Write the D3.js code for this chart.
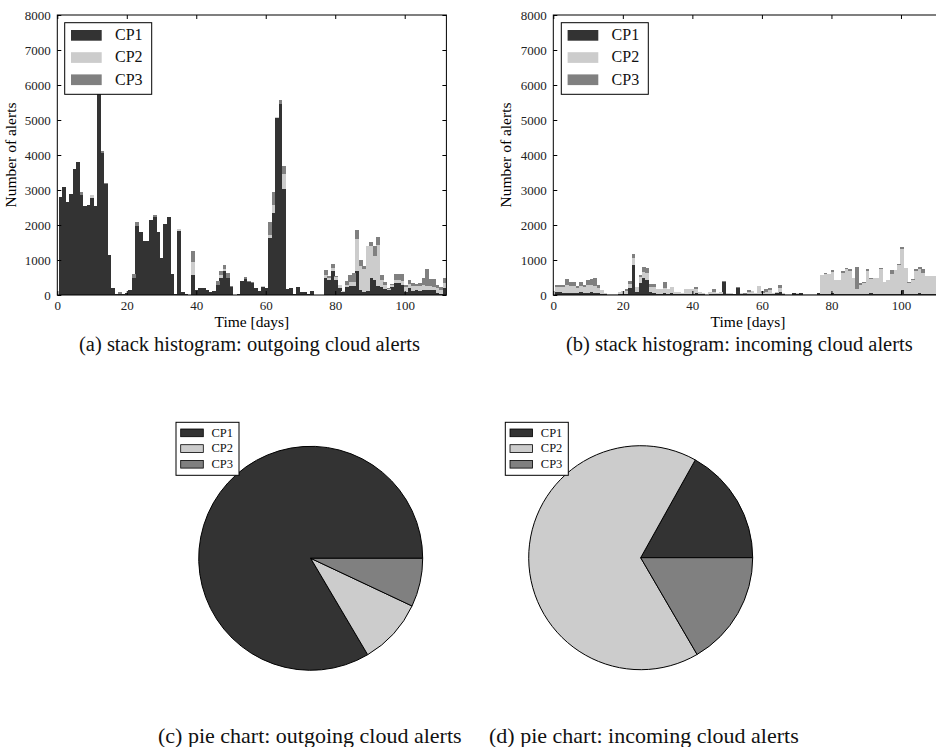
<!DOCTYPE html>
<html><head><meta charset="utf-8">
<script src="https://cdn.jsdelivr.net/npm/d3@7"></script>
<style>
body{margin:0;background:#fff}
svg{display:block}
text{font-family:"Liberation Serif","Times New Roman","DejaVu Serif",serif}
</style></head><body>
<svg id="c" width="936" height="747"></svg>
<script>
// ---------------- DATA ----------------
const categories = ["CP1", "CP2", "CP3"];
// histogram bins (days): 111 bins between these edges
const binEdgeFirst = 0.4, binEdgeLast = 111.9;
const xTickValues = [0, 20, 40, 60, 80, 100];
const yTickValues = [0, 1000, 2000, 3000, 4000, 5000, 6000, 7000, 8000];

// outgoing cloud alerts per bin
const outCP1 = [2800,3100,2650,2900,3600,3800,2870,2550,2580,2780,
  2550,6000,4050,3180,1150,200,30,20,30,50,
  130,480,1960,1800,1550,1540,2130,2220,1800,1060,
  2040,2240,600,30,1820,80,20,10,560,150,
  190,200,130,90,120,300,500,680,500,230,
  10,30,400,450,360,330,190,110,220,210,
  1620,2330,5070,5470,3040,160,200,40,230,90,
  90,30,110,10,0,0,490,430,700,430,
  200,80,220,260,260,700,130,100,120,480,
  430,260,240,180,130,230,340,330,300,100,
  200,120,150,110,150,130,140,130,60,40,190];
const outCP2 = [0,0,0,0,0,0,0,0,0,70,
  0,0,0,0,0,0,0,0,0,0,
  0,0,0,0,0,0,0,0,0,0,
  0,0,0,0,60,0,0,0,380,0,
  0,0,0,0,0,0,80,60,0,0,
  0,0,0,0,0,0,0,0,40,0,
  100,240,30,0,430,0,0,0,0,0,
  0,0,0,0,0,0,80,60,80,80,
  90,30,80,100,120,910,700,650,1280,930,
  680,1170,190,120,50,60,80,90,100,130,
  120,150,100,140,130,120,110,100,140,100,140];
const outCP3 = [0,0,0,0,0,0,80,0,0,0,
  0,0,60,30,0,0,0,60,0,0,
  0,120,120,0,0,0,0,60,0,0,
  0,0,0,0,0,0,0,0,330,0,
  0,0,0,0,0,100,120,130,140,40,
  0,0,0,60,30,50,0,0,0,0,
  380,380,0,115,220,0,0,0,0,0,
  0,0,0,0,0,0,140,50,100,40,
  0,0,100,220,260,240,170,80,0,100,
  280,220,140,60,20,30,170,170,190,50,
  120,80,70,100,200,480,200,230,100,80,150];

// incoming cloud alerts per bin
const inCP1 = [80,90,70,60,70,60,50,80,70,60,
  80,70,60,40,20,10,10,10,20,30,
  40,200,850,80,340,500,430,80,60,40,
  40,60,40,50,30,30,20,30,40,30,
  50,30,20,10,30,40,20,40,370,20,
  30,20,200,40,40,30,20,20,30,30,
  40,30,30,50,90,20,10,10,60,40,
  50,10,10,10,10,50,20,20,20,60,
  20,20,20,20,20,20,40,20,30,20,
  60,20,20,20,20,20,30,20,40,150,
  20,20,20,40,60,40,20,20,20,20,20];
const inCP2 = [150,150,150,230,200,200,150,180,150,220,
  200,200,150,100,50,20,10,20,80,90,
  80,120,200,160,170,170,200,140,170,130,
  120,150,120,170,60,60,50,130,120,130,
  110,60,40,20,60,60,30,50,0,30,
  40,10,0,30,0,50,90,30,230,20,
  40,100,20,50,100,50,10,10,10,10,
  20,10,10,5,5,20,540,580,580,600,
  400,420,610,720,660,470,140,270,320,670,
  400,480,480,720,340,420,570,690,830,1170,
  740,330,400,650,680,580,520,520,530,520,520];
const inCP3 = [50,60,60,170,110,120,50,100,60,150,
  170,230,80,0,0,0,0,0,0,0,
  50,80,110,0,70,130,140,90,80,0,
  0,170,0,0,0,0,0,0,0,0,
  60,0,0,0,0,60,0,0,30,0,
  0,0,20,0,27,60,0,0,0,60,
  80,60,0,0,100,0,0,0,0,0,
  0,0,0,0,0,0,10,40,0,50,
  10,0,60,40,50,0,630,40,30,40,
  20,0,0,30,0,0,110,0,20,40,
  0,20,30,40,60,110,0,0,0,0,0];

// pie shares (%)
const pieOut = [83.5, 9.5, 7.0];
const pieIn = [16.9, 66.5, 16.6];

// ---------------- DRAWING ----------------
const colors = d3.scaleOrdinal().domain(categories).range(["#333333", "#cccccc", "#808080"]);
const svg = d3.select("#c");
const SERIF = '"Liberation Serif","Times New Roman","DejaVu Serif",serif';

function histogram(cfg) {
  const g = svg.append("g").attr("transform", `translate(${cfg.left},${cfg.top})`);
  const x = d3.scaleLinear().domain([0, 112]).range([0, cfg.width]);
  const y = d3.scaleLinear().domain([0, 8000]).range([cfg.height, 0]);
  const nBins = cfg.series[0].length;
  const edge = d3.scaleLinear().domain([0, nBins]).range([binEdgeFirst, binEdgeLast]);
  const rows = d3.range(nBins).map(i => {
    const r = { bin: i };
    categories.forEach((c, j) => r[c] = cfg.series[j][i]);
    return r;
  });
  const stacked = d3.stack().keys(categories)(rows);
  const clipId = "clip" + cfg.id;
  g.append("clipPath").attr("id", clipId).append("rect")
    .attr("width", cfg.width).attr("height", cfg.height);
  const bars = g.append("g").attr("clip-path", `url(#${clipId})`);
  bars.selectAll("g.layer").data(stacked).join("g").attr("class", "layer")
    .attr("fill", d => colors(d.key))
    .selectAll("rect").data(d => d).join("rect")
    .attr("x", d => x(edge(d.data.bin)))
    .attr("width", d => x(edge(d.data.bin + 1)) - x(edge(d.data.bin)) + 0.3)
    .attr("y", d => y(d[1]))
    .attr("height", d => Math.max(0, y(d[0]) - y(d[1])))
    .attr("shape-rendering", "crispEdges");

  // axes, matplotlib style inward ticks
  const ax = (gen, tr) => {
    const a = g.append("g").attr("transform", tr).attr("font-family", null).call(gen);
    a.attr("font-family", SERIF);
    a.select(".domain").remove();
    a.selectAll(".tick line").attr("stroke", "#000");
    a.selectAll("text").attr("fill", "#222").style("font-size", "13px")
      .style("font-family", SERIF);
    return a;
  };
  const fmt = d3.format("d");
  ax(d3.axisBottom(x).tickValues(xTickValues).tickSize(-4).tickPadding(6).tickFormat(fmt), `translate(0,${cfg.height})`);
  ax(d3.axisTop(x).tickValues(xTickValues).tickSize(-4).tickFormat(""), `translate(0,0)`);
  ax(d3.axisLeft(y).tickValues(yTickValues).tickSize(-4).tickPadding(6.5).tickFormat(fmt), `translate(0,0)`);
  ax(d3.axisRight(y).tickValues(yTickValues).tickSize(-4).tickFormat(""), `translate(${cfg.width},0)`);

  g.append("rect").attr("width", cfg.width).attr("height", cfg.height)
    .attr("fill", "none").attr("stroke", "#000").attr("stroke-width", 1);

  g.append("text").attr("x", cfg.width / 2).attr("y", cfg.height + 31.5)
    .attr("text-anchor", "middle").style("font-size", "15.5px").text("Time [days]");
  g.append("text").attr("transform", `translate(${cfg.ylabX},${cfg.height / 2}) rotate(-90)`)
    .attr("text-anchor", "middle").style("font-size", "15.5px").text("Number of alerts");

  // legend
  const lg = g.append("g").attr("transform", `translate(${cfg.legX},7.7)`);
  lg.append("rect").attr("width", 87).attr("height", 71.6)
    .attr("fill", "#fff").attr("stroke", "#000").attr("stroke-width", 1);
  categories.forEach((c, i) => {
    lg.append("rect").attr("x", 6.3).attr("y", 7.3 + i * 22.2)
      .attr("width", 30.7).attr("height", 10.7).attr("fill", colors(c));
    lg.append("text").attr("x", 50.3).attr("y", 17.6 + i * 22.2)
      .style("font-size", "16px").attr("fill", "#111").text(c);
  });
}

histogram({ id: "a", left: 57.3, top: 15, width: 389.1, height: 280,
  series: [outCP1, outCP2, outCP3], ylabX: -41.5, legX: 7.4 });
histogram({ id: "b", left: 553.3, top: 15, width: 389.4, height: 280,
  series: [inCP1, inCP2, inCP3], ylabX: -42, legX: 8 });

function pie(cfg) {
  const g = svg.append("g").attr("transform", `translate(${cfg.cx},${cfg.cy})`);
  const arcs = d3.pie().sort(null).startAngle(Math.PI / 2).endAngle(Math.PI / 2 - 2 * Math.PI)(cfg.values);
  const arc = d3.arc().innerRadius(0).outerRadius(cfg.r);
  g.selectAll("path").data(arcs).join("path")
    .attr("d", arc).attr("fill", (d, i) => colors(categories[i]))
    .attr("stroke", "#000").attr("stroke-width", 1).attr("stroke-linejoin", "round");
  const lg = svg.append("g").attr("transform", `translate(${cfg.legX},${cfg.legY})`);
  lg.append("rect").attr("width", 63).attr("height", 53)
    .attr("fill", "#fff").attr("stroke", "#000").attr("stroke-width", 1);
  categories.forEach((c, i) => {
    lg.append("rect").attr("x", 4.7).attr("y", 6.7 + i * 15.7)
      .attr("width", 22.6).attr("height", 7.7).attr("fill", colors(c))
      .attr("stroke", "#000").attr("stroke-width", 0.8);
    lg.append("text").attr("x", 35.5).attr("y", 14.3 + i * 15.7)
      .style("font-size", "12.5px").attr("fill", "#111").text(c);
  });
}
pie({ cx: 310.7, cy: 558.3, r: 112, values: pieOut, legX: 176, legY: 422.3 });
pie({ cx: 640.7, cy: 557.7, r: 112, values: pieIn, legX: 505.3, legY: 422.3 });

// captions
const captions = [
  { x: 79, y: 351, s: 20.5, t: "(a) stack histogram: outgoing cloud alerts" },
  { x: 566, y: 351, s: 20.5, t: "(b) stack histogram: incoming cloud alerts" },
  { x: 158, y: 743, s: 22, t: "(c) pie chart: outgoing cloud alerts" },
  { x: 489, y: 743, s: 22, t: "(d) pie chart: incoming cloud alerts" }
];
svg.selectAll("text.cap").data(captions).join("text").attr("class", "cap")
  .attr("x", d => d.x).attr("y", d => d.y).style("font-size", d => d.s + "px")
  .attr("fill", "#111").text(d => d.t);
</script>
</body></html>
